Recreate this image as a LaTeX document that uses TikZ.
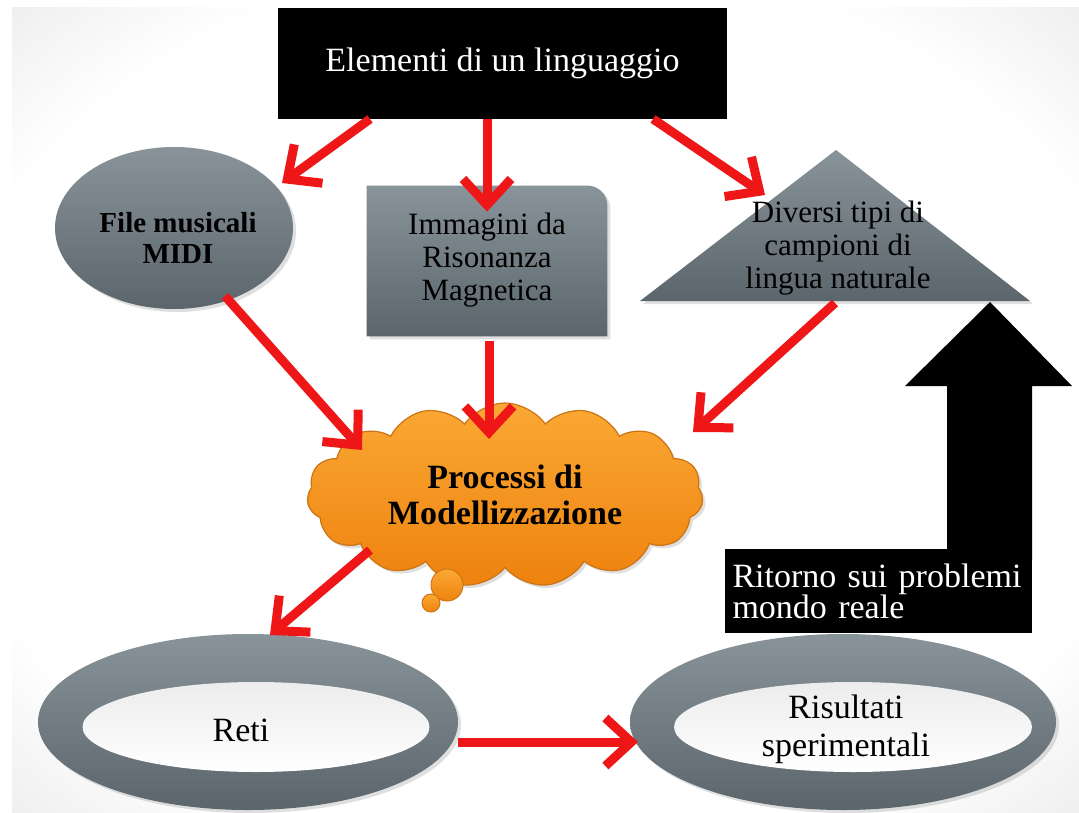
\documentclass[tikz,border=0pt]{standalone}
\usepackage{fontspec}
\setmainfont{Liberation Serif}
\usetikzlibrary{shapes.geometric,shapes.symbols,arrows.meta,calc,shadows}
\definecolor{arrred}{RGB}{238,22,22}
\definecolor{slatelt}{RGB}{136,147,154}
\definecolor{slatemd}{RGB}{112,124,132}
\definecolor{slatedk}{RGB}{90,101,108}
\definecolor{orlt}{RGB}{251,168,52}
\definecolor{ordk}{RGB}{238,130,14}
\definecolor{oredge}{RGB}{205,115,20}
\definecolor{bggray}{RGB}{208,208,208}
\definecolor{ringin}{RGB}{236,236,236}
\pgfdeclareradialshading{bgshade}{\pgfpoint{0bp}{0bp}}{color(0bp)=(white); color(28bp)=(white); color(50bp)=(bggray); color(72bp)=(bggray)}
\tikzset{
  redarrow/.style={draw=arrred, line width=4.5pt, -{Straight Barb[length=13pt,width=24pt]}},
  grayshape/.style={top color=slatelt, bottom color=slatedk, draw=none},
  ringshape/.style={ellipse, top color=slatelt, bottom color=slatedk, draw=none, inner sep=0},
  ringhole/.style={ellipse, top color=ringin, bottom color=white, draw=none, inner sep=0},
  lbl/.style={align=center, inner sep=0, text=black},
  shd/.style={drop shadow={opacity=0.25, shadow xshift=1.5pt, shadow yshift=-1.5pt}}
}
\begin{document}
\begin{tikzpicture}[x=0.5pt,y=-0.5pt]
\useasboundingbox (0,0) rectangle (1079,812);
\fill[white] (0,0) rectangle (1079,812);
\shade[shading=bgshade] (12,8) rectangle (1079,812);

% title
\node[fill=black, minimum width=224.5pt, minimum height=55.5pt, inner sep=0, text=white,
      font=\fontsize{17}{20}\selectfont] (title) at (502.5,63.5) {Elementi di un linguaggio};

% MIDI ellipse
\node[ellipse, grayshape, shd, minimum width=119pt, minimum height=81pt, inner sep=0] (midi) at (174,228) {};
\node[lbl, font=\fontsize{14.5}{15.5}\selectfont\bfseries] (midit) at (178,238) {File musicali\\MIDI};

% rectangle
\node[minimum width=120pt, minimum height=75pt, inner sep=0] (rect) at (487,261) {};
\shade[grayshape, shd] (rect.south west) -- (rect.north west) -- ([xshift=-10pt]rect.north east)
   arc[start angle=90, end angle=0, radius=10pt] -- (rect.south east) -- cycle;
\node[lbl, font=\fontsize{15.5}{16.5}\selectfont] (rectt) at (487,260) {Immagini da\\Risonanza\\Magnetica};

% triangle
\coordinate (tA) at (836,150);
\coordinate (tL) at (640,301);
\coordinate (tR) at (1030,301);
\shade[grayshape, shd] (tA) -- (tL) -- (tR) -- cycle;
\node[lbl, font=\fontsize{15.5}{16.5}\selectfont] (tri) at (838,248) {Diversi tipi di\\campioni di\\lingua naturale};

% cloud
\node[cloud, cloud puffs=15, cloud puff arc=110, aspect=2.2, minimum width=198pt, minimum height=92pt,
      top color=orlt, bottom color=ordk, draw=oredge, line width=0.6pt, inner sep=0, shd,
      align=center, font=\fontsize{17}{18}\selectfont\bfseries] (cloud) at (505,495) {Processi di\\Modellizzazione};
\node[circle, top color=orlt, bottom color=ordk, draw=oredge, line width=0.5pt, minimum size=16pt, inner sep=0] (b1) at (447,585) {};
\node[circle, top color=orlt, bottom color=ordk, draw=oredge, line width=0.5pt, minimum size=9pt, inner sep=0] (b2) at (431,603) {};

% black up arrow with text box
\fill[black] (990,302) -- (1072,386) -- (1032,386) -- (1032,560) -- (947,560) -- (947,386) -- (905,386) -- cycle;
\node[fill=black, text=white, minimum width=153.5pt, minimum height=42pt, text width=146pt, inner sep=0,
      align=left, font=\fontsize{17}{15.5}\selectfont] (ret) at (878.5,591) {Ritorno sui problemi\\mondo reale};

% rings
\node[ringshape, shd, minimum width=210pt, minimum height=88pt] (reti) at (248,722) {};
\node[ringhole, minimum width=173.5pt, minimum height=45pt] (retiin) at (256,727) {};
\node[lbl, font=\fontsize{17}{19}\selectfont] (retit) at (241,730) {Reti};

\node[ringshape, shd, minimum width=213pt, minimum height=88pt] (risul) at (843,722) {};
\node[ringhole, minimum width=179pt, minimum height=45pt] (risulin) at (853,727) {};
\node[lbl, font=\fontsize{17}{19}\selectfont] (risult) at (846,729) {Risultati\\sperimentali};

% red arrows
\draw[redarrow] ($(title.center)+(-132.5,55.5)$) -- ($(midi.center)+(108,-45)$);
\draw[redarrow] (rect.north |- title.south) -- ($(rect.north)+(0,26)$);
\draw[redarrow] ($(title.center)+(150.5,55.5)$) -- ($(tri.center)+(-73,-53)$);
\draw[redarrow] ($(midi.center)+(51,68)$) -- ($(cloud.center)+(-143,-45)$);
\draw[redarrow] ($(rect.south)+(2,5)$) -- ($(cloud.center)+(-16,-56)$);
\draw[redarrow] ($(tri.center)+(-3,55)$) -- ($(cloud.center)+(188,-63)$);
\draw[redarrow] ($(cloud.center)+(-135,55)$) -- ($(reti.center)+(22,-87)$);
\draw[redarrow] ($(reti.center)+(210,20)$) -- ($(risul.center)+(-205,20)$);
\end{tikzpicture}
\end{document}
